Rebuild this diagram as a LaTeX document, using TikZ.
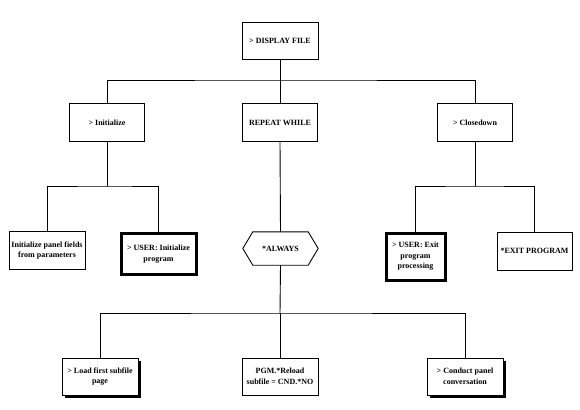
\documentclass[tikz,border=0pt]{standalone}
\usepackage{fontspec}
\setmainfont{Liberation Serif}
\usetikzlibrary{shadows}
\begin{document}
\begin{tikzpicture}[x=1pt,y=-1pt,
  box/.style={draw, line width=0.9pt, fill=white, minimum width=76pt, minimum height=38pt,
    align=center, inner sep=1.5pt, font=\fontsize{8}{10.5}\selectfont\bfseries},
  thickbox/.style={box, line width=3pt},
  shbox/.style={box, general shadow={fill=black, shadow xshift=3.2pt, shadow yshift=-3.2pt}},
  conn/.style={line width=0.9pt}]
\useasboundingbox (0,0) rectangle (580,409);
% level 1
\node[box, minimum height=37pt] (D) at (280,40.5) {> DISPLAY FILE};
% level 2
\node[box, minimum width=75pt] (Init) at (107,122.5) {> Initialize};
\node[box, minimum width=75pt] (Rep) at (280,122.5) {REPEAT WHILE};
\node[box, minimum width=75pt] (Close) at (475,122.5) {> Closedown};
% level 3
\node[box] (IPF) at (47,250.5) {Initialize panel fields\\from parameters};
\node[thickbox, minimum width=75pt, minimum height=41pt] (UI) at (158.5,254) {> USER: Initialize\\program};
\node[minimum width=75pt, minimum height=33pt, inner sep=0pt, font=\fontsize{8}{10.5}\selectfont\bfseries] (AL) at (280.5,248.5) {*ALWAYS};
\draw[conn] (AL.west) -- ([xshift=10pt]AL.north west) -- ([xshift=-10pt]AL.north east) -- (AL.east)
  -- ([xshift=-10pt]AL.south east) -- ([xshift=10pt]AL.south west) -- cycle;
\node[thickbox, minimum width=59pt, minimum height=47pt] (UE) at (415.5,256.5) {> USER: Exit\\program\\processing};
\node[box, minimum width=75pt] (EP) at (534.5,251) {*EXIT PROGRAM};
% level 4
\node[shbox, minimum height=37pt] (Load) at (100,376.5) {> Load first subfile\\page};
\node[box, minimum height=37pt] (PGM) at (280,376.5) {PGM.*Reload\\subfile = CND.*NO};
\node[shbox, minimum height=37pt] (Cond) at (465,376.5) {> Conduct panel\\conversation};
% bus coordinates
\coordinate (b1) at (280,80);
\coordinate (b2) at (107,186);
\coordinate (b3) at (475,186);
\coordinate (b4) at (280,313);
% connectors
\draw[conn] (D.south) -- (b1);
\draw[conn] (Init.north) |- (b1) -| (Close.north);
\draw[conn] (b1) -- (Rep.north);
\draw[conn] (Init.south) -- (b2);
\draw[conn] (IPF.north) |- (b2) -| (UI.north);
\draw[conn] (Rep.south) -- (AL.north);
\draw[conn] (Close.south) -- (b3);
\draw[conn] (UE.north) |- (b3) -| (EP.north);
\draw[conn] (AL.south) -- (b4);
\draw[conn] (Load.north) |- (b4) -| (Cond.north);
\draw[conn] (b4) -- (PGM.north);
\end{tikzpicture}
\end{document}
